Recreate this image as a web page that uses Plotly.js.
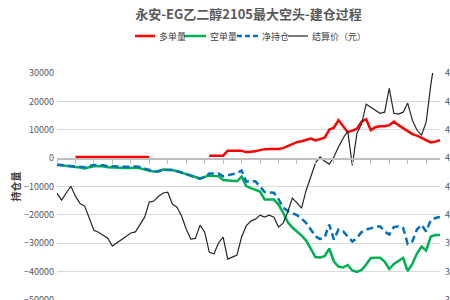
<!DOCTYPE html>
<html>
<head>
<meta charset="utf-8">
<script src="https://cdn.plot.ly/plotly-3.0.1.min.js"></script>
<style>html,body{margin:0;padding:0;background:#fff;}#chart{width:450px;height:300px;}</style>
</head>
<body>
<div id="chart"></div>
<script>
const seriesNames = ['多单量', '空单量', '净持仓', '结算价（元）'];
const titleText = '永安-EG乙二醇2105最大空头-建仓过程';
const yTitle = '持仓量';

const longPos = [null,null,null,null,
  400,400,400,400,400,400,400,400,400,400,400,400,400,400,400,400,400,
  null,null,null,null,null,null,null,null,null,null,null,null,
  880,880,880,880,2640,2640,2640,2640,2040,2110,2390,2820,3170,3240,3240,3240,3520,4220,5000,5630,
  5980,6510,6860,6270,6690,7220,10030,10740,13380,11090,9150,9680,10380,12850,13730,9860,10910,
  11260,11260,11620,12850,11620,10630,9330,8450,7920,7220,6510,5560,5810,6340];

const shortPos = [-2300,-2450,-2650,-2750,-3100,-3350,-3650,-3200,-2850,-2850,
  -2900,-3250,-3350,-3400,-3450,-3450,-3450,-3350,-3550,-4050,
  -4500,-4700,-4600,-4050,-4150,-4200,-4600,-5100,-5450,-6050,
  -6600,-7200,-6600,
  -6160,-6270,-6340,-7740,-7920,-8030,-8170,-6510,-9860,-10560,-11090,-11790,-14610,-14610,-14610,
  -16370,-19180,-22530,-24460,-25870,-27280,-29040,-31860,-34850,-35020,-34570,-31860,-36430,
  -38190,-38540,-37660,-39600,-40130,-39420,-37490,-35200,-35130,-35130,-36430,-39070,-37310,
  -36260,-35200,-39780,-37310,-33620,-31150,-32560,-27630,-27100,-27100];

const netPos = [-2300,-2450,-2650,-2750,-2700,-2950,-3250,-2800,-2450,-2450,
  -2500,-2850,-2950,-3000,-3050,-3050,-3050,-2950,-3150,-3650,
  -4100,-4700,-4600,-4050,-4150,-4200,-4600,-5100,-5450,-6050,
  -6600,-7200,-6600,
  -5460,-5460,-5460,-6410,-5980,-5630,-5280,-4400,-8270,-8100,-8170,-10030,-11970,-12140,-12210,
  -14430,-17420,-18660,-19360,-20060,-21300,-22880,-25170,-27530,-28510,-27980,-23410,-28690,
  -25170,-25770,-27630,-29390,-28160,-26050,-25170,-24640,-24290,-24010,-25870,-26930,-24290,
  -24010,-24570,-30270,-29390,-25170,-23510,-25870,-21820,-21120,-20700];

const settlePrice = [4077,4052,4077,4101,4066,4040,4031,3989,3946,3939,
  3929,3918,3890,3901,3911,3922,3936,3940,3964,3992,
  4045,4049,4066,4077,4080,4038,4027,3996,3950,3915,
  3917,3964,3939,3869,3862,3901,3922,3844,3851,3858,
  3922,3961,3978,3985,3999,3992,3999,3992,3957,3971,
  4010,4059,4042,4024,4087,4137,4182,4204,4189,4179,
  4204,4239,4270,4295,4175,4288,4320,4390,4380,4369,
  4358,4362,4446,4358,4355,4362,4394,4334,4299,4281,
  4327,4457,4563,null];

const days = settlePrice.map((_, i) => i);
const colors = ['#ff0000', '#00b050', '#0070c0', '#262626'];
const FONT = '"Noto Sans CJK SC", "Noto Sans", sans-serif';

const data = [
  {x: days, y: longPos, name: seriesNames[0], type: 'scatter', mode: 'lines',
   line: {color: colors[0], width: 2.5}, connectgaps: false, hoverinfo: 'skip'},
  {x: days, y: shortPos, name: seriesNames[1], type: 'scatter', mode: 'lines',
   line: {color: colors[1], width: 2.5}, hoverinfo: 'skip'},
  {x: days, y: netPos, name: seriesNames[2], type: 'scatter', mode: 'lines',
   line: {color: colors[2], width: 2.5, dash: '7px,4px'}, hoverinfo: 'skip'},
  {x: days, y: settlePrice, name: seriesNames[3], type: 'scatter', mode: 'lines', yaxis: 'y2',
   line: {color: colors[3], width: 1.2}, hoverinfo: 'skip'}
];

const M = {l: 57, r: 10, t: 73, b: 0};
const W = 450, H = 300;
const pw = W - M.l - M.r, ph = H - M.t - M.b;
const px2x = p => (p - M.l) / pw;
const py2y = p => (H - M.b - p) / ph;

// legend (drawn manually to match compact Excel legend)
const legendItems = [
  {x0: 135, x1: 155, tx: 157},
  {x0: 184, x1: 206, tx: 208},
  {x0: 237, x1: 258, tx: 260},
  {x0: 288, x1: 308, tx: 310}
];
const legY = 36;
const shapes = legendItems.map((it, k) => ({
  type: 'line', xref: 'paper', yref: 'paper',
  x0: px2x(it.x0), x1: px2x(it.x1), y0: py2y(legY), y1: py2y(legY),
  line: {color: colors[k], width: k === 3 ? 1.2 : 2.5, dash: k === 2 ? '5px,3px' : 'solid'}
}));
const annotations = legendItems.map((it, k) => ({
  xref: 'paper', yref: 'paper', x: px2x(it.tx), y: py2y(legY),
  xanchor: 'left', yanchor: 'middle', showarrow: false,
  text: seriesNames[k], font: {family: FONT, size: 9, color: '#404040'}
}));

const layout = {
  width: W, height: H, margin: M,
  paper_bgcolor: '#ffffff', plot_bgcolor: '#ffffff',
  showlegend: false,
  title: {text: titleText, x: 0.5, xref: 'paper', xanchor: 'center',
          y: 1 - 14 / H, yref: 'container', yanchor: 'middle',
          font: {family: FONT, size: 13, color: '#595959', weight: 'bold'}},
  xaxis: {range: [0, 83], anchor: 'free', position: 0.625,
          showline: true, linecolor: '#bfbfbf', linewidth: 1.5,
          ticks: 'outside', ticklen: 4, tickcolor: '#bfbfbf', tickwidth: 1,
          tick0: 0, dtick: 4, showticklabels: false, showgrid: false, zeroline: false},
  yaxis: {range: [-50000, 30000], dtick: 10000, tick0: 0, tickformat: 'd',
          gridcolor: '#d9d9d9', gridwidth: 1, zeroline: false, ticks: '',
          ticklabeloverflow: 'allow', ticklabelstandoff: 2,
          tickfont: {family: FONT, size: 9, color: '#595959'},
          title: {text: yTitle, standoff: 1, font: {family: FONT, size: 10, color: '#404040', weight: 'bold'}}},
  yaxis2: {overlaying: 'y', side: 'right', range: [3700, 4500], dtick: 100, tickformat: 'd',
           showgrid: false, zeroline: false, ticks: '',
           ticklabeloverflow: 'allow', ticklabelstandoff: 4,
           tickfont: {family: FONT, size: 9, color: '#595959'}},
  shapes: shapes,
  annotations: annotations
};

Plotly.newPlot('chart', data, layout, {staticPlot: true, displayModeBar: false});
</script>
</body>
</html>
